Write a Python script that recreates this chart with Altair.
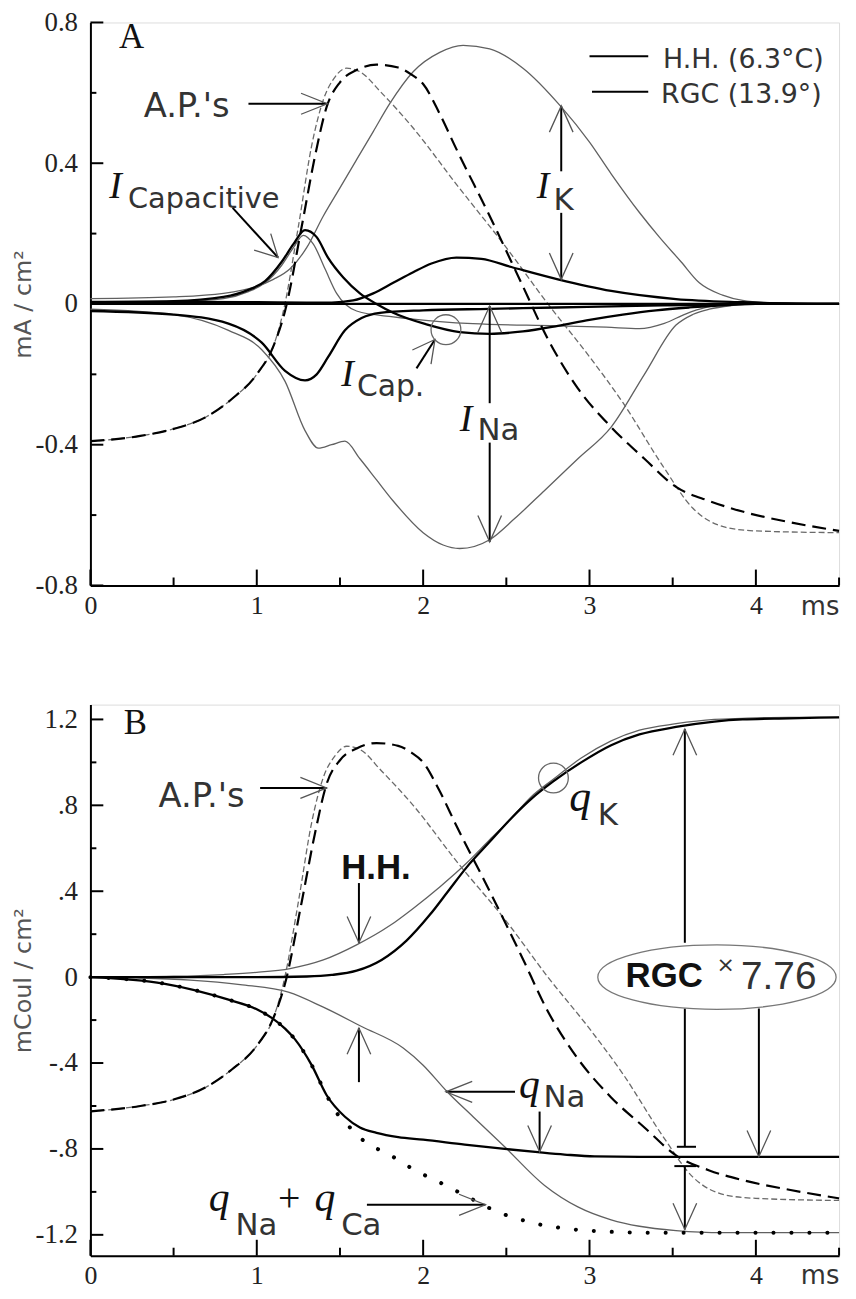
import altair as alt
import pandas as pd

SERIF = "Liberation Serif"
SANS = "DejaVu Sans"
ARIAL = "Liberation Sans"

# ---------------- Panel A : currents (mA / cm2) ----------------
A_T_AP_HH = [0, 0.3, 0.5, 0.7, 0.85, 1.0, 1.1, 1.17, 1.27, 1.35, 1.42, 1.5, 1.6, 1.72, 1.85, 1.93, 2.0, 2.1, 2.2, 2.4, 2.59, 2.75, 2.93, 3.13, 3.33, 3.52, 3.72, 3.92, 4.2, 4.5]
A_V_AP_HH = [-0.39, -0.375, -0.355, -0.32, -0.27, -0.20, -0.12, -0.02, 0.22, 0.42, 0.56, 0.63, 0.665, 0.68, 0.672, 0.652, 0.625, 0.54, 0.44, 0.25, 0.06, -0.1, -0.24, -0.35, -0.44, -0.52, -0.56, -0.59, -0.62, -0.645]
A_T_AP_RGC = [0, 0.3, 0.5, 0.7, 0.85, 1.0, 1.1, 1.16, 1.25, 1.33, 1.4, 1.47, 1.54, 1.62, 1.75, 1.94, 2.2, 2.5, 2.75, 3.0, 3.2, 3.44, 3.62, 3.82, 4.0, 4.5]
A_V_AP_RGC = [-0.39, -0.375, -0.355, -0.32, -0.27, -0.20, -0.12, -0.02, 0.22, 0.45, 0.58, 0.645, 0.67, 0.66, 0.6, 0.5, 0.34, 0.16, 0.0, -0.15, -0.28, -0.46, -0.58, -0.635, -0.645, -0.65]
A_T_IK_RGC = [0, 0.5, 0.8, 1.0, 1.1, 1.2, 1.3, 1.4, 1.5, 1.6, 1.7, 1.8, 1.94, 2.1, 2.24, 2.4, 2.6, 2.83, 3.0, 3.13, 3.3, 3.42, 3.55, 3.66, 3.8, 3.92, 4.1, 4.5]
A_V_IK_RGC = [0.015, 0.02, 0.03, 0.05, 0.07, 0.1, 0.16, 0.25, 0.33, 0.41, 0.49, 0.57, 0.66, 0.715, 0.735, 0.725, 0.67, 0.56, 0.46, 0.37, 0.26, 0.19, 0.12, 0.06, 0.025, 0.01, 0.003, 0.0]
A_T_INA_RGC = [0, 0.5, 0.83, 1.03, 1.17, 1.29, 1.37, 1.45, 1.53, 1.62, 1.72, 1.82, 2.0, 2.12, 2.22, 2.4, 2.55, 2.73, 2.93, 3.13, 3.33, 3.52, 3.62, 3.72, 3.85, 4.0, 4.5]
A_V_INA_RGC = [-0.015, -0.03, -0.075, -0.13, -0.22, -0.36, -0.41, -0.40, -0.39, -0.44, -0.50, -0.56, -0.65, -0.685, -0.695, -0.67, -0.61, -0.53, -0.44, -0.35, -0.2, -0.06, -0.03, -0.015, -0.005, 0.0, 0.0]
A_T_ICAP_RGC = [0, 0.5, 0.8, 0.95, 1.05, 1.15, 1.22, 1.28, 1.34, 1.41, 1.48, 1.6, 1.82, 2.1, 2.3, 2.8, 3.1, 3.3, 3.45, 3.58, 3.7, 3.87, 4.5]
A_V_ICAP_RGC = [0.0, 0.005, 0.015, 0.035, 0.06, 0.11, 0.16, 0.195, 0.17, 0.1, 0.03, -0.02, -0.037, -0.05, -0.056, -0.062, -0.066, -0.07, -0.055, -0.028, -0.01, 0.0, 0.0]
A_T_ICAP_HH = [0, 0.5, 0.8, 0.95, 1.05, 1.15, 1.22, 1.29, 1.36, 1.43, 1.52, 1.62, 1.72, 1.82, 2.02, 2.22, 2.4, 2.6, 2.81, 3.0, 3.2, 3.4, 3.6, 3.8, 4.0, 4.5]
A_V_ICAP_HH = [0.005, 0.008, 0.02, 0.04, 0.065, 0.12, 0.17, 0.21, 0.19, 0.13, 0.075, 0.03, 0.0, -0.025, -0.058, -0.08, -0.085, -0.078, -0.062, -0.045, -0.03, -0.018, -0.01, -0.004, 0.0, 0.0]
A_T_INA_HH = [0, 0.5, 0.83, 1.03, 1.17, 1.29, 1.36, 1.43, 1.53, 1.63, 1.74, 2.0, 2.4, 2.8, 3.2, 3.6, 4.0, 4.5]
A_V_INA_HH = [-0.02, -0.03, -0.056, -0.11, -0.19, -0.217, -0.2, -0.15, -0.075, -0.04, -0.025, -0.018, -0.014, -0.01, -0.006, -0.003, 0.0, 0.0]
A_T_IK_HH = [0, 0.5, 1.0, 1.3, 1.45, 1.58, 1.7, 1.82, 1.94, 2.05, 2.2, 2.35, 2.53, 2.81, 3.13, 3.52, 3.92, 4.5]
A_V_IK_HH = [0.006, 0.006, 0.005, 0.004, 0.004, 0.01, 0.03, 0.06, 0.09, 0.115, 0.132, 0.128, 0.105, 0.07, 0.037, 0.014, 0.005, 0.0]
A_T_ZERO = [0, 4.5]
A_V_ZERO = [0, 0]

# ---------------- Panel B : charges (mCoul / cm2) ----------------
B_T_AP_HH = A_T_AP_HH
B_V_AP_HH = [-0.625, -0.6, -0.57, -0.51, -0.43, -0.32, -0.19, -0.03, 0.35, 0.67, 0.9, 1.01, 1.065, 1.09, 1.077, 1.045, 1.0, 0.865, 0.705, 0.4, 0.1, -0.16, -0.38, -0.56, -0.7, -0.83, -0.9, -0.945, -0.99, -1.03]
B_T_AP_RGC = A_T_AP_RGC
B_V_AP_RGC = [-0.625, -0.6, -0.57, -0.51, -0.43, -0.32, -0.19, -0.03, 0.35, 0.72, 0.93, 1.03, 1.075, 1.06, 0.96, 0.8, 0.54, 0.26, 0.0, -0.24, -0.45, -0.74, -0.93, -1.015, -1.03, -1.04]
B_T_QK_HH = [0, 0.5, 0.8, 1.0, 1.2, 1.4, 1.6, 1.8, 1.94, 2.1, 2.26, 2.4, 2.53, 2.65, 2.78, 2.95, 3.13, 3.3, 3.52, 3.75, 3.92, 4.2, 4.5]
B_V_QK_HH = [0.0, 0.004, 0.012, 0.022, 0.04, 0.08, 0.15, 0.24, 0.32, 0.42, 0.53, 0.64, 0.74, 0.84, 0.92, 1.02, 1.1, 1.15, 1.18, 1.2, 1.205, 1.21, 1.21]
B_T_QK_RGC = [0, 0.5, 1.0, 1.3, 1.45, 1.6, 1.75, 1.9, 2.04, 2.15, 2.26, 2.4, 2.53, 2.65, 2.78, 2.95, 3.13, 3.3, 3.52, 3.75, 3.92, 4.2, 4.5]
B_V_QK_RGC = [0.0, 0.0, 0.0, 0.003, 0.01, 0.03, 0.08, 0.17, 0.29, 0.4, 0.51, 0.63, 0.74, 0.83, 0.91, 1.0, 1.08, 1.13, 1.165, 1.19, 1.2, 1.205, 1.21]
B_T_QNA_HH = [0, 0.3, 0.6, 0.9, 1.19, 1.4, 1.63, 1.88, 2.0, 2.14, 2.3, 2.49, 2.73, 2.93, 3.13, 3.3, 3.52, 3.8, 4.5]
B_V_QNA_HH = [0.0, -0.004, -0.014, -0.035, -0.07, -0.14, -0.23, -0.33, -0.41, -0.53, -0.65, -0.79, -0.97, -1.07, -1.13, -1.16, -1.18, -1.19, -1.19]
B_T_QNA_RGC = [0, 0.44, 0.83, 1.0, 1.09, 1.17, 1.23, 1.33, 1.42, 1.53, 1.62, 1.72, 1.85, 2.0, 2.25, 2.49, 2.69, 2.85, 3.03, 3.3, 4.5]
B_V_QNA_RGC = [0.0, -0.03, -0.105, -0.15, -0.19, -0.24, -0.29, -0.41, -0.55, -0.65, -0.7, -0.725, -0.745, -0.757, -0.78, -0.80, -0.815, -0.826, -0.835, -0.837, -0.837]
B_T_QNACA = [0, 0.44, 0.83, 1.0, 1.09, 1.17, 1.23, 1.33, 1.42, 1.47, 1.56, 1.64, 1.75, 1.85, 1.95, 2.06, 2.16, 2.26, 2.47, 2.59, 2.69, 2.85, 3.1, 3.4, 4.5]
B_V_QNACA = [0.0, -0.03, -0.105, -0.15, -0.19, -0.24, -0.29, -0.41, -0.55, -0.62, -0.70, -0.76, -0.81, -0.85, -0.9, -0.94, -0.98, -1.02, -1.10, -1.13, -1.15, -1.17, -1.185, -1.19, -1.19]

# ---------------- axes ----------------
X_MAJOR = [0, 1, 2, 3, 4]
X_MINOR = [0.5, 1.5, 2.5, 3.5, 4.5]
A_Y_MAJOR = [-0.8, -0.4, 0, 0.4, 0.8]
A_Y_MINOR = [-0.6, -0.2, 0.2, 0.6]
B_Y_MAJOR = [-1.2, -0.8, -0.4, 0, 0.4, 0.8, 1.2]
B_Y_MINOR = [-1.0, -0.6, -0.2, 0.2, 0.6, 1.0]

# ---------------- annotations ----------------
A_SH_T = [0.95, 0.855, 2.83, 2.83, 2.40, 2.40, 1.96, 3.00, 3.015]
A_SH_V = [0.569, 0.273, 0.563, 0.259, -0.006, -0.394, -0.183, 0.704, 0.603]
A_SH_T2 = [1.424, 1.128, 2.83, 2.83, 2.40, 2.40, 2.071, 3.353, 3.353]
A_SH_V2 = [0.569, 0.132, 0.377, 0.070, -0.282, -0.676, -0.101, 0.704, 0.603]
A_HD_T = [1.424, 1.128, 2.83, 2.83, 2.40, 2.40, 2.071]
A_HD_V = [0.569, 0.132, 0.563, 0.070, -0.006, -0.676, -0.101]
A_HD_D = ["right", "downright", "up", "down", "up", "down", "upright"]
A_CIRC_T = [2.137]
A_CIRC_V = [-0.073]

B_SH_T = [1.02, 1.614, 1.614, 2.552, 2.70, 1.662, 3.573, 3.573, 3.525, 3.51, 3.573, 4.018]
B_SH_V = [0.881, 0.438, -0.489, -0.534, -0.626, -1.06, 0.16, -0.146, -0.79, -0.88, -0.88, -0.146]
B_SH_T2 = [1.42, 1.614, 1.614, 2.137, 2.70, 2.374, 3.573, 3.573, 3.64, 3.64, 3.573, 4.018]
B_SH_V2 = [0.881, 0.16, -0.237, -0.534, -0.813, -1.06, 1.155, -0.79, -0.79, -0.88, -1.175, -0.836]
B_HD_T = [1.42, 1.614, 1.614, 2.137, 2.70, 2.374, 3.573, 3.573, 4.018]
B_HD_V = [0.881, 0.16, -0.237, -0.534, -0.813, -1.06, 1.155, -1.175, -0.836]
B_HD_D = ["right", "down", "up", "left", "down", "right", "up", "down", "down"]
B_CIRC_T = [2.783]
B_CIRC_V = [0.927]
B_ELL_T = [3.766]
B_ELL_V = [0.0]

# texts: (text, t, v, fontsize)
A_TXT_SERIF_IT = [("I", 0.113, 0.301, 38), ("I", 2.683, 0.301, 38), ("I", 2.22, -0.361, 38), ("I", 1.507, -0.234, 38)]
A_TXT_SERIF = [("A", 0.172, 0.727, 35)]
A_TXT_SANS = [("Capacitive", 0.226, 0.273, 29), ("K", 2.783, 0.268, 31), ("Na", 2.326, -0.386, 31),
              ("Cap.", 1.602, -0.262, 30), ("A.P.'s", 0.32, 0.532, 34),
              ("H.H. (6.3°C)", 3.442, 0.670, 27), ("RGC (13.9°)", 3.43, 0.572, 27), ("ms", 4.27, -0.885, 26)]
A_TXT_BOLD = []
A_TXT_ARIAL = []

B_TXT_SERIF_IT = [("q", 2.878, 0.772, 44), ("q", 2.576, -0.562, 42), ("q", 0.712, -1.087, 42), ("q", 1.347, -1.087, 42)]
B_TXT_SERIF = [("B", 0.2, 1.132, 35), ("+", 1.128, -1.087, 40)]
B_TXT_SANS = [("K", 3.05, 0.708, 31), ("Na", 2.724, -0.607, 31), ("Na", 0.872, -1.2, 31), ("Ca", 1.507, -1.2, 31),
              ("A.P.'s", 0.41, 0.79, 34), ("ms", 4.27, -1.43, 26), ("×", 3.763, 0.023, 22)]
B_TXT_BOLD = [("H.H.", 1.507, 0.457, 35), ("RGC", 3.217, -0.046, 35)]
B_TXT_ARIAL = [("7.76", 3.911, -0.055, 39)]

DIRS = ["up", "down", "left", "right", "downright", "upright"]
PATHS = ["M -0.45 1 L 0 0 L 0.45 1", "M -0.45 -1 L 0 0 L 0.45 -1",
         "M 1 -0.4 L 0 0 L 1 0.4", "M -1 -0.4 L 0 0 L -1 0.4",
         "M -0.91 -0.28 L 0 0 L -0.28 -0.91", "M -0.15 0.94 L 0 0 L -0.86 0.40"]
ELLIPSE = ("M -1 0 C -1 -0.149 -0.552 -0.27 0 -0.27 C 0.552 -0.27 1 -0.149 1 0 "
           "C 1 0.149 0.552 0.27 0 0.27 C -0.552 0.27 -1 0.149 -1 0 Z")

LINE_STYLES = {
    "thick": dict(color="black", strokeWidth=2.3),
    "thin": dict(color="#606060", strokeWidth=1.3),
    "thickdash": dict(color="black", strokeWidth=2.2, strokeDash=[14, 7]),
    "thindash": dict(color="#6a6a6a", strokeWidth=1.3, strokeDash=[6, 3]),
    "dots": dict(color="black", strokeWidth=4, strokeDash=[0.1, 18], strokeCap="round"),
}

WIDTH = 754


def lines_df(items):
    rows = []
    for name, ts, vs in items:
        rows += [{"s": name, "t": t, "v": v} for t, v in zip(ts, vs)]
    return pd.DataFrame(rows)


def txt_df(items):
    return pd.DataFrame({"txt": [i[0] for i in items], "t": [i[1] for i in items],
                         "v": [i[2] for i in items], "fs": [i[3] for i in items]})


def build(P):
    H = P["height"]
    xs = alt.Scale(domain=[0, 4.5], nice=False, zero=False)
    ys = alt.Scale(domain=P["ydom"], nice=False, zero=False)
    xax = alt.Axis(values=X_MAJOR, format="d", ticks=False, tickSize=0, labelPadding=7, labelFlush=False,
                   grid=False, domainWidth=2, domainColor="black", labelFont=SERIF, labelFontSize=26,
                   labelColor="#222222", title=None, labelOverlap=False)
    yax = alt.Axis(values=P["ymajor"], labelExpr=P["labexpr"], ticks=False, tickSize=0, labelPadding=13,
                   grid=False, domainWidth=2, domainColor="black", labelFont=SERIF, labelFontSize=27,
                   labelColor="#222222", title=P["ytitle"], titleFont=SANS, titleFontSize=24,
                   titleFontWeight="normal", titleColor="#555555", titlePadding=0, labelOverlap=False)
    X = alt.X("t:Q", scale=xs, axis=xax)
    Y = alt.Y("v:Q", scale=ys, axis=yax)
    layers = []
    for style, items in P["lines"]:
        layers.append(alt.Chart(lines_df(items)).mark_line(interpolate="monotone", **LINE_STYLES[style])
                      .encode(x=X, y=Y, detail="s:N"))
    sh = pd.DataFrame({"t": P["sh"][0], "v": P["sh"][1], "t2": P["sh"][2], "v2": P["sh"][3]})
    layers.append(alt.Chart(sh).mark_rule(color="black", strokeWidth=2).encode(x=X, y=Y, x2="t2:Q", y2="v2:Q"))
    hd = pd.DataFrame({"t": P["hd"][0], "v": P["hd"][1], "d": P["hd"][2]})
    layers.append(alt.Chart(hd).mark_point(filled=False, color="#555555", strokeWidth=1.3, size=2800, opacity=1)
                  .encode(x=X, y=Y, shape=alt.Shape("d:N", scale=alt.Scale(domain=DIRS, range=PATHS), legend=None)))
    ci = pd.DataFrame({"t": P["circ"][0], "v": P["circ"][1]})
    layers.append(alt.Chart(ci).mark_point(shape="circle", filled=False, color="#666666", strokeWidth=1.3,
                                           size=900, opacity=1).encode(x=X, y=Y))
    if P.get("ell"):
        el = pd.DataFrame({"t": P["ell"][0], "v": P["ell"][1]})
        layers.append(alt.Chart(el).mark_point(shape=ELLIPSE, filled=False, color="#777777", strokeWidth=1.3,
                                               size=240 * 240, opacity=1).encode(x=X, y=Y))
    groups = [
        (P["t_serif_it"], dict(font=SERIF, fontStyle="italic", color="#111111")),
        (P["t_serif"], dict(font=SERIF, color="#111111")),
        (P["t_sans"], dict(font=SANS, color="#333333")),
        (P["t_bold"], dict(font=ARIAL, fontWeight="bold", color="#111111")),
        (P["t_arial"], dict(font=ARIAL, color="#333333")),
    ]
    for items, props in groups:
        if not items:
            continue
        layers.append(alt.Chart(txt_df(items)).mark_text(align="left", baseline="alphabetic", **props)
                      .encode(x=X, y=Y, text="txt:N", size=alt.Size("fs:Q", scale=None, legend=None)))
    layers.append(alt.Chart(pd.DataFrame({"v": P["ymajor"]})).mark_rule(color="black", strokeWidth=2)
                  .encode(y=Y, x=alt.value(0), x2=alt.value(13)))
    layers.append(alt.Chart(pd.DataFrame({"v": P["yminor"]})).mark_rule(color="black", strokeWidth=2)
                  .encode(y=Y, x=alt.value(0), x2=alt.value(6)))
    layers.append(alt.Chart(pd.DataFrame({"t": X_MAJOR})).mark_rule(color="black", strokeWidth=2)
                  .encode(x=X, y=alt.value(H), y2=alt.value(H - 16)))
    layers.append(alt.Chart(pd.DataFrame({"t": X_MINOR})).mark_rule(color="black", strokeWidth=2)
                  .encode(x=X, y=alt.value(H), y2=alt.value(H - 8)))
    return alt.layer(*layers).properties(width=WIDTH, height=H)


MINUS_FIX = "replace(format(datum.value, '.1f'), '\u2212', '-')"

PA = dict(
    height=567, ydom=[-0.8, 0.8], ymajor=A_Y_MAJOR, yminor=A_Y_MINOR, ytitle="mA / cm²",
    labexpr="datum.value == 0 ? '0' : " + MINUS_FIX,
    lines=[
        ("thin", [("ik_rgc", A_T_IK_RGC, A_V_IK_RGC), ("ina_rgc", A_T_INA_RGC, A_V_INA_RGC),
                  ("icap_rgc", A_T_ICAP_RGC, A_V_ICAP_RGC)]),
        ("thindash", [("ap_rgc", A_T_AP_RGC, A_V_AP_RGC)]),
        ("thickdash", [("ap_hh", A_T_AP_HH, A_V_AP_HH)]),
        ("thick", [("zero", A_T_ZERO, A_V_ZERO), ("icap_hh", A_T_ICAP_HH, A_V_ICAP_HH),
                   ("ina_hh", A_T_INA_HH, A_V_INA_HH), ("ik_hh", A_T_IK_HH, A_V_IK_HH)]),
    ],
    sh=(A_SH_T, A_SH_V, A_SH_T2, A_SH_V2), hd=(A_HD_T, A_HD_V, A_HD_D), circ=(A_CIRC_T, A_CIRC_V),
    t_serif_it=A_TXT_SERIF_IT, t_serif=A_TXT_SERIF, t_sans=A_TXT_SANS, t_bold=A_TXT_BOLD, t_arial=A_TXT_ARIAL,
)

PB = dict(
    height=555, ydom=[-1.297, 1.269], ymajor=B_Y_MAJOR, yminor=B_Y_MINOR, ytitle="mCoul / cm²",
    labexpr="datum.value == 0 ? '0' : replace(" + MINUS_FIX + ", '0.', '.')",
    lines=[
        ("thin", [("qk_hh", B_T_QK_HH, B_V_QK_HH), ("qna_hh", B_T_QNA_HH, B_V_QNA_HH)]),
        ("thindash", [("ap_rgc", B_T_AP_RGC, B_V_AP_RGC)]),
        ("thickdash", [("ap_hh", B_T_AP_HH, B_V_AP_HH)]),
        ("thick", [("qk_rgc", B_T_QK_RGC, B_V_QK_RGC), ("qna_rgc", B_T_QNA_RGC, B_V_QNA_RGC)]),
        ("dots", [("qnaca", B_T_QNACA, B_V_QNACA)]),
    ],
    sh=(B_SH_T, B_SH_V, B_SH_T2, B_SH_V2), hd=(B_HD_T, B_HD_V, B_HD_D), circ=(B_CIRC_T, B_CIRC_V),
    ell=(B_ELL_T, B_ELL_V),
    t_serif_it=B_TXT_SERIF_IT, t_serif=B_TXT_SERIF, t_sans=B_TXT_SANS, t_bold=B_TXT_BOLD, t_arial=B_TXT_ARIAL,
)

chart = (
    alt.vconcat(build(PA), build(PB), spacing=83)
    .properties(padding={"left": 2, "top": -5, "right": 0, "bottom": -5})
    .configure_view(stroke=None)
    .configure_axis(labelFont=SERIF)
    .configure(background="white")
)

chart.save("out.html", embed_options={"renderer": "svg", "actions": False})
